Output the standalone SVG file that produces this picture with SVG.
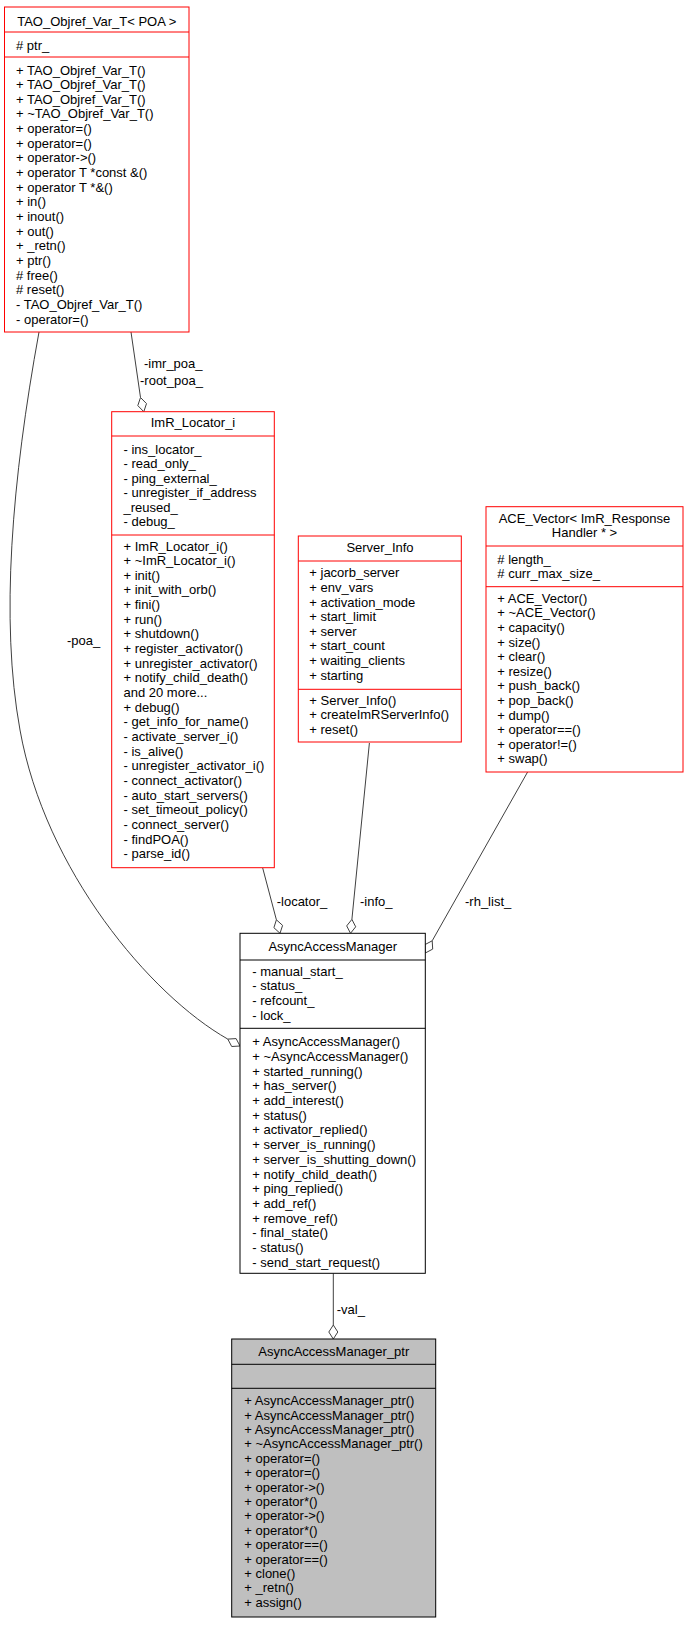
<svg xmlns="http://www.w3.org/2000/svg" width="689" height="1627" viewBox="0 0 689 1627">
<style>
text{font-family:"Liberation Sans",Arial,sans-serif;font-size:13px;fill:#000}
.c{text-anchor:middle}
.r{fill:#fff;stroke:#ff0000;stroke-width:1}
.k{fill:#fff;stroke:#000;stroke-width:1}
.g{fill:#bfbfbf;stroke:#000;stroke-width:1}
.sr{stroke:#ff0000;stroke-width:1}
.sk{stroke:#000;stroke-width:1}
.e{fill:none;stroke:#404040;stroke-width:1}
.d{fill:#fff;stroke:#404040;stroke-width:1}
</style>
<rect width="689" height="1627" fill="#fff"/>
<g id="edges">
<path class="e" d="M131,332 L140.5,397.5"/>
<path class="d" d="M140.5,397.5 L146.5,403.6 L143.8,411.7 L137.8,405.6 Z"/>
<text x="144" y="367.5">-imr_poa_</text>
<text x="140" y="384.5">-root_poa_</text>
<path class="e" d="M39,332 C12,480 0,620 20,730 C45,870 150,995 227.8,1039.1"/>
<path class="d" d="M227.8,1039.1 L236.1,1038.6 L240,1046 L231.7,1046.5 Z"/>
<text x="67" y="644.5">-poa_</text>
<path class="e" d="M262.7,868 L276.4,919.8"/>
<path class="d" d="M276.4,919.8 L282.6,925.4 L280,933.3 L273.9,927.7 Z"/>
<text x="276.7" y="905.5">-locator_</text>
<path class="e" d="M369.4,743 L351.9,919.4"/>
<path class="d" d="M351.9,919.4 L355.7,926.8 L350.5,933.3 L346.7,925.9 Z"/>
<text x="360" y="905.5">-info_</text>
<path class="e" d="M527.6,772 L432.2,940.8"/>
<path class="d" d="M432.2,940.8 L432.7,949.1 L425.3,953 L424.8,944.7 Z"/>
<text x="465" y="905.5">-rh_list_</text>
<path class="e" d="M333.3,1273.3 L333.3,1325"/>
<path class="d" d="M333.3,1325 L337.8,1332 L333.3,1339 L328.8,1332 Z"/>
<text x="336.7" y="1313.5">-val_</text>
</g>
<g id="TAO_Objref_Var_T">
<rect class="r" x="4.5" y="7" width="184.5" height="325"/>
<line class="sr" x1="4.5" y1="32" x2="189" y2="32"/>
<line class="sr" x1="4.5" y1="57" x2="189" y2="57"/>
<text class="c" x="96.8" y="26.2">TAO_Objref_Var_T&lt; POA &gt;</text>
<text x="16" y="49.5"># ptr_</text>
<text x="16" y="74.5">+ TAO_Objref_Var_T()</text>
<text x="16" y="89.15">+ TAO_Objref_Var_T()</text>
<text x="16" y="103.8">+ TAO_Objref_Var_T()</text>
<text x="16" y="118.45">+ ~TAO_Objref_Var_T()</text>
<text x="16" y="133.1">+ operator=()</text>
<text x="16" y="147.75">+ operator=()</text>
<text x="16" y="162.4">+ operator-&gt;()</text>
<text x="16" y="177.05">+ operator T *const &amp;()</text>
<text x="16" y="191.7">+ operator T *&amp;()</text>
<text x="16" y="206.35">+ in()</text>
<text x="16" y="221">+ inout()</text>
<text x="16" y="235.65">+ out()</text>
<text x="16" y="250.3">+ _retn()</text>
<text x="16" y="264.95">+ ptr()</text>
<text x="16" y="279.6"># free()</text>
<text x="16" y="294.25"># reset()</text>
<text x="16" y="308.9">- TAO_Objref_Var_T()</text>
<text x="16" y="323.55">- operator=()</text>
</g>
<g id="ImR_Locator_i">
<rect class="r" x="111.7" y="411.7" width="162.6" height="456"/>
<line class="sr" x1="111.7" y1="436" x2="274.3" y2="436"/>
<line class="sr" x1="111.7" y1="535" x2="274.3" y2="535"/>
<text class="c" x="193" y="427.2">ImR_Locator_i</text>
<text x="123.5" y="453.8">- ins_locator_</text>
<text x="123.5" y="468.3">- read_only_</text>
<text x="123.5" y="482.8">- ping_external_</text>
<text x="123.5" y="497.3">- unregister_if_address</text>
<text x="123.5" y="511.8">_reused_</text>
<text x="123.5" y="526.3">- debug_</text>
<text x="123.5" y="550.5">+ ImR_Locator_i()</text>
<text x="123.5" y="565.15">+ ~ImR_Locator_i()</text>
<text x="123.5" y="579.8">+ init()</text>
<text x="123.5" y="594.45">+ init_with_orb()</text>
<text x="123.5" y="609.1">+ fini()</text>
<text x="123.5" y="623.75">+ run()</text>
<text x="123.5" y="638.4">+ shutdown()</text>
<text x="123.5" y="653.05">+ register_activator()</text>
<text x="123.5" y="667.7">+ unregister_activator()</text>
<text x="123.5" y="682.35">+ notify_child_death()</text>
<text x="123.5" y="697">and 20 more...</text>
<text x="123.5" y="711.65">+ debug()</text>
<text x="123.5" y="726.3">- get_info_for_name()</text>
<text x="123.5" y="740.95">- activate_server_i()</text>
<text x="123.5" y="755.6">- is_alive()</text>
<text x="123.5" y="770.25">- unregister_activator_i()</text>
<text x="123.5" y="784.9">- connect_activator()</text>
<text x="123.5" y="799.55">- auto_start_servers()</text>
<text x="123.5" y="814.2">- set_timeout_policy()</text>
<text x="123.5" y="828.85">- connect_server()</text>
<text x="123.5" y="843.5">- findPOA()</text>
<text x="123.5" y="858.15">- parse_id()</text>
</g>
<g id="Server_Info">
<rect class="r" x="298.3" y="536" width="163" height="206"/>
<line class="sr" x1="298.3" y1="561" x2="461.3" y2="561"/>
<line class="sr" x1="298.3" y1="689.3" x2="461.3" y2="689.3"/>
<text class="c" x="380" y="551.8">Server_Info</text>
<text x="309.3" y="577.2">+ jacorb_server</text>
<text x="309.3" y="591.85">+ env_vars</text>
<text x="309.3" y="606.5">+ activation_mode</text>
<text x="309.3" y="621.15">+ start_limit</text>
<text x="309.3" y="635.8">+ server</text>
<text x="309.3" y="650.45">+ start_count</text>
<text x="309.3" y="665.1">+ waiting_clients</text>
<text x="309.3" y="679.75">+ starting</text>
<text x="309.3" y="704.5">+ Server_Info()</text>
<text x="309.3" y="719.15">+ createImRServerInfo()</text>
<text x="309.3" y="733.8">+ reset()</text>
</g>
<g id="ACE_Vector">
<rect class="r" x="486" y="506.7" width="197" height="265.3"/>
<line class="sr" x1="486" y1="546" x2="683" y2="546"/>
<line class="sr" x1="486" y1="586.7" x2="683" y2="586.7"/>
<text class="c" x="584.5" y="522.8">ACE_Vector&lt; ImR_Response</text>
<text class="c" x="584.5" y="536.8">Handler * &gt;</text>
<text x="497.3" y="563.5"># length_</text>
<text x="497.3" y="577.8"># curr_max_size_</text>
<text x="497.3" y="602.8">+ ACE_Vector()</text>
<text x="497.3" y="617.4">+ ~ACE_Vector()</text>
<text x="497.3" y="632">+ capacity()</text>
<text x="497.3" y="646.6">+ size()</text>
<text x="497.3" y="661.2">+ clear()</text>
<text x="497.3" y="675.8">+ resize()</text>
<text x="497.3" y="690.4">+ push_back()</text>
<text x="497.3" y="705">+ pop_back()</text>
<text x="497.3" y="719.6">+ dump()</text>
<text x="497.3" y="734.2">+ operator==()</text>
<text x="497.3" y="748.8">+ operator!=()</text>
<text x="497.3" y="763.4">+ swap()</text>
</g>
<g id="AsyncAccessManager">
<rect class="k" x="240" y="933.3" width="185.3" height="340"/>
<line class="sk" x1="240" y1="960" x2="425.3" y2="960"/>
<line class="sk" x1="240" y1="1028.3" x2="425.3" y2="1028.3"/>
<text class="c" x="332.7" y="950.5">AsyncAccessManager</text>
<text x="252.3" y="975.5">- manual_start_</text>
<text x="252.3" y="990.2">- status_</text>
<text x="252.3" y="1004.8">- refcount_</text>
<text x="252.3" y="1019.5">- lock_</text>
<text x="252.3" y="1046.2">+ AsyncAccessManager()</text>
<text x="252.3" y="1060.9">+ ~AsyncAccessManager()</text>
<text x="252.3" y="1075.6">+ started_running()</text>
<text x="252.3" y="1090.3">+ has_server()</text>
<text x="252.3" y="1105">+ add_interest()</text>
<text x="252.3" y="1119.7">+ status()</text>
<text x="252.3" y="1134.4">+ activator_replied()</text>
<text x="252.3" y="1149.1">+ server_is_running()</text>
<text x="252.3" y="1163.8">+ server_is_shutting_down()</text>
<text x="252.3" y="1178.5">+ notify_child_death()</text>
<text x="252.3" y="1193.2">+ ping_replied()</text>
<text x="252.3" y="1207.9">+ add_ref()</text>
<text x="252.3" y="1222.6">+ remove_ref()</text>
<text x="252.3" y="1237.3">- final_state()</text>
<text x="252.3" y="1252">- status()</text>
<text x="252.3" y="1266.7">- send_start_request()</text>
</g>
<g id="AsyncAccessManager_ptr">
<rect class="g" x="231.7" y="1339" width="204" height="278"/>
<line class="sk" x1="231.7" y1="1364.3" x2="435.7" y2="1364.3"/>
<line class="sk" x1="231.7" y1="1388.3" x2="435.7" y2="1388.3"/>
<text class="c" x="333.8" y="1356.2">AsyncAccessManager_ptr</text>
<text x="244.3" y="1405.2">+ AsyncAccessManager_ptr()</text>
<text x="244.3" y="1419.6">+ AsyncAccessManager_ptr()</text>
<text x="244.3" y="1434">+ AsyncAccessManager_ptr()</text>
<text x="244.3" y="1448.4">+ ~AsyncAccessManager_ptr()</text>
<text x="244.3" y="1462.8">+ operator=()</text>
<text x="244.3" y="1477.2">+ operator=()</text>
<text x="244.3" y="1491.6">+ operator-&gt;()</text>
<text x="244.3" y="1506">+ operator*()</text>
<text x="244.3" y="1520.4">+ operator-&gt;()</text>
<text x="244.3" y="1534.8">+ operator*()</text>
<text x="244.3" y="1549.2">+ operator==()</text>
<text x="244.3" y="1563.6">+ operator==()</text>
<text x="244.3" y="1578">+ clone()</text>
<text x="244.3" y="1592.4">+ _retn()</text>
<text x="244.3" y="1606.8">+ assign()</text>
</g>
</svg>
